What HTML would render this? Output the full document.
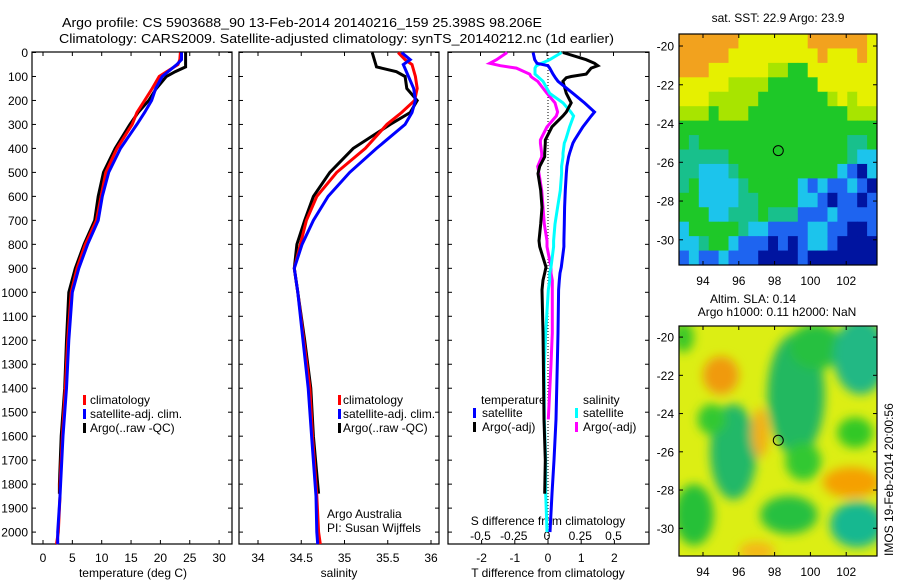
<!DOCTYPE html>
<html><head><meta charset="utf-8"><style>
html,body{margin:0;padding:0;background:#fff;}
svg{display:block;font-family:"Liberation Sans",sans-serif;}
</style></head><body>
<svg id="fig" width="900" height="580" viewBox="0 0 900 580" xmlns="http://www.w3.org/2000/svg">
<rect width="900" height="580" fill="#fff"/>
<text x="62" y="27" font-size="13" textLength="480" lengthAdjust="spacingAndGlyphs">Argo profile: CS 5903688_90 13-Feb-2014 20140216_159 25.398S 98.206E</text>
<text x="59" y="43" font-size="13" textLength="555" lengthAdjust="spacingAndGlyphs">Climatology: CARS2009. Satellite-adjusted climatology: synTS_20140212.nc (1d earlier)</text>
<g id="g"></g>
</svg>
<script>
// ---------- data ----------
const depthTicks=[0,100,200,300,400,500,600,700,800,900,1000,1100,1200,1300,1400,1500,1600,1700,1800,1900,2000];
const tempTicks=[0,5,10,15,20,25,30];
const salTicks=[34,34.5,35,35.5,36];
const tdiffTicks=[-2,-1,0,1,2];
const sdiffTicks=[-0.5,-0.25,0,0.25,0.5];
const sdiffTickLabels=["-0.5","-0.25","0","0.25","0.5"];

const climDepth=[0,30,50,100,150,200,250,300,400,500,600,700,800,900,1000,1200,1400,1600,1800,1850,2000,2050];
const climTemp=[23.4,23.3,23.0,19.8,18.6,17.3,16.0,15.2,12.6,10.7,9.9,9.1,7.2,5.8,4.8,4.2,3.8,3.3,2.9,2.9,2.6,2.3];
const satTemp=[23.6,23.6,22.8,20.3,19.2,18.5,17.3,16.0,13.2,11.2,10.1,9.4,7.6,6.1,5.0,4.4,4.0,3.4,3.0,2.9,2.5,2.5];
const argoDepth=[0,60,80,100,150,200,250,300,400,500,600,700,800,900,1000,1200,1400,1600,1800,1840];
const argoTemp=[24.3,24.3,22.5,21.0,19.3,18.0,16.2,14.8,12.3,10.3,9.4,8.8,7.0,5.5,4.4,4.0,3.7,3.1,2.8,2.8];

const climSal=[35.62,35.70,35.78,35.82,35.84,35.81,35.66,35.49,35.24,34.91,34.68,34.56,34.49,34.42,34.46,34.53,34.60,34.63,34.67,34.68,34.70,34.72];
const satSal=[35.66,35.76,35.68,35.74,35.80,35.82,35.78,35.70,35.37,35.06,34.81,34.64,34.51,34.42,34.46,34.52,34.58,34.62,34.66,34.67,34.68,34.69];
const argoSal=[35.32,35.37,35.60,35.70,35.72,35.84,35.76,35.53,35.10,34.83,34.64,34.54,34.45,34.42,34.46,34.54,34.61,34.64,34.69,34.70];

const diffDepth=[0,30,45,55,65,90,100,105,120,170,210,248,265,310,365,378,420,435,475,505,575,645,715,785,810,895,920,950,990,1170,1300,1530,1700,1840,2000];
const satTdiff=[-0.45,-0.4,-0.33,0.0,0.05,0.15,0.2,0.22,0.3,0.75,1.1,1.4,1.3,1.05,0.8,0.75,0.65,0.62,0.57,0.55,0.52,0.5,0.49,0.48,0.48,0.4,0.36,0.34,0.32,0.3,0.28,0.24,0.18,0.12,0.06];
const argoTdiff=[0.45,1.15,1.4,1.5,1.3,1.15,0.7,0.55,0.45,0.55,0.7,0.55,0.45,0.12,-0.08,-0.08,-0.1,-0.1,-0.25,-0.3,-0.22,-0.18,-0.22,-0.27,-0.25,-0.06,-0.1,-0.15,-0.18,-0.15,-0.14,-0.12,-0.08,-0.1,null];
const satSdiff=[0.11,0.02,-0.04,-0.08,-0.09,-0.09,-0.07,-0.06,-0.03,0.02,0.12,0.18,0.2,0.17,0.14,0.13,0.12,0.12,0.11,0.11,0.1,0.08,0.06,0.05,0.05,0.03,0.02,0.02,0.01,-0.01,-0.02,-0.02,-0.01,-0.01,0.0];
const argoSdiff=[-0.3,-0.38,-0.43,-0.35,-0.23,-0.13,-0.12,-0.11,-0.07,0.0,0.06,0.08,0.07,0.0,-0.05,-0.05,-0.04,-0.04,-0.07,-0.06,-0.04,-0.03,-0.02,0.0,0.0,0.03,0.03,0.04,0.04,0.04,0.03,0.01,null,null,null];

const lonTicks=[94,96,98,100,102];
const latTicks=[-20,-22,-24,-26,-28,-30];
const floatLon=98.206, floatLat=-25.398;
// SST coarse colour grid (rows north→south, columns west→east)
const sstGrid=[
"OOOOOOYYYYYYYOOOOOOY","OOOOOYYYYYYYYYOYYYOY","OOOYYYYYYLLGGYYYYYYY","YYYYYLLLLGGGGGYYYYYY",
"YYYLLLLLGGGGGGGLYLYY","LLLGLLLGGGGGGGGGGLLL","GGGGGGGGGGGGGGGGGGGG","GTGGGGGGGGGGGGGGGTTG",
"TTTTTGGGGGGGGGGGGTCC","TTCCCTGGGGGGGGGGCBDC","TGCCCCTGGGGGCBCBBCBD","GGCCCCTTGGGGCCBDBBDB",
"GGGCCTTTGTTTBBBCBBBB","CGGGGGTCCBBBBCCBBDDB","CCTGGCBBBDBDBCCBDDDD","BCBBCBBBDDDDBDDDDDDD"];
const sstColors={O:"#f2a21e",Y:"#e6f000",L:"#a8e400",G:"#1ec828",T:"#18c08c",C:"#1cc4ec",B:"#1e64f0",D:"#0014a0"};
// SLA blobs: lon, lat, rx(deg), ry(deg), colour
const slaLon=[99.2,100.3,102.8,95.7,94.5,93.5,98.8,102.6,102.5,99.6,92.9,95.0,97.2,102.3,97.0];
const slaLat=[-23.0,-20.5,-21.0,-26.0,-24.3,-29.3,-29.3,-29.8,-25.0,-26.5,-20.0,-22.0,-25.0,-27.6,-31.2];
const slaRx=[1.6,1.5,1.5,1.3,0.8,1.1,1.6,1.5,1.0,1.0,0.6,1.0,0.5,1.6,1.0];
const slaRy=[3.2,1.2,2.0,2.5,0.8,1.6,1.0,1.2,0.8,1.0,0.8,1.0,1.3,0.8,0.5];
const slaCol=["#22b860","#28c040","#20b884","#22b868","#30c830","#28c038","#26c040","#18b890","#30c828","#30c830","#3cc828","#f09a10","#f2b014","#f5a000","#f4b818"];

// ---------- helpers ----------
const NS="http://www.w3.org/2000/svg";
const G=document.getElementById('g');
function mk(tag,attrs,parent){const e=document.createElementNS(NS,tag);for(const k in attrs)e.setAttribute(k,attrs[k]);(parent||G).appendChild(e);return e;}
const TOP=52,BOT=544;
const yD=d=>52.5+d*0.2398;
const xT=t=>43+t*5.87;
const xS=s=>258+(s-34)*86.5;
const xTd=t=>548+t*33.2;
const xSd=s=>547+s*133;

function frame(x0,x1,name){
  const r=mk('rect',{x:x0,y:TOP,width:x1-x0,height:BOT-TOP,fill:'none',stroke:'#000','stroke-width':1.2});
  
  
  depthTicks.forEach(d=>{
    mk('line',{x1:x0,x2:x0+4,y1:yD(d),y2:yD(d),stroke:'#000'});
    mk('line',{x1:x1,x2:x1-4,y1:yD(d),y2:yD(d),stroke:'#000'});
  });
}
function text(x,y,s,anchor,size,name){
  const t=mk('text',{x:x,y:y,'font-size':size||12,'text-anchor':anchor||'start'});
  t.textContent=s;
  
  
  return t;
}
function profile(xs,ds,xf,color,name){
  let pts=[];
  for(let i=0;i<ds.length;i++){if(xs[i]==null)continue;pts.push(xf(xs[i]).toFixed(1)+','+yD(ds[i]).toFixed(1));}
  const p=mk('polyline',{points:pts.join(' '),fill:'none',stroke:color,'stroke-width':3,'stroke-linejoin':'miter'});
  
  
}
function legendBar(x,y,color){mk('rect',{x:x,y:y-5,width:3,height:10,fill:color});}

// ---------- panel 1 ----------
frame(32,232,'temperature-panel');
depthTicks.forEach(d=>{text(28,yD(d)+4.5,String(d),'end',12,'depth-tick-label');});
tempTicks.forEach(t=>{
  mk('line',{x1:xT(t),x2:xT(t),y1:BOT,y2:BOT-4,stroke:'#000'});
  mk('line',{x1:xT(t),x2:xT(t),y1:TOP,y2:TOP+4,stroke:'#000'});
  text(xT(t),562,String(t),'middle',12,'temperature-tick-label');
});
text(133,577,'temperature (deg C)','middle',12,'x-axis-title-temperature');
profile(argoTemp,argoDepth,xT,'#000','argo-temperature-line');
profile(climTemp,climDepth,xT,'#f00','climatology-temperature-line');
profile(satTemp,climDepth,xT,'#00f','satellite-temperature-line');
[['#f00','climatology'],['#00f','satellite-adj. clim.'],['#000','Argo(..raw -QC)']].forEach((e,i)=>{
  legendBar(83,400+i*14,e[0]);text(90,404+i*14,e[1],'start',12,'legend-entry');
});

// ---------- panel 2 ----------
frame(239,439,'salinity-panel');
salTicks.forEach(s=>{
  mk('line',{x1:xS(s),x2:xS(s),y1:BOT,y2:BOT-4,stroke:'#000'});
  mk('line',{x1:xS(s),x2:xS(s),y1:TOP,y2:TOP+4,stroke:'#000'});
  text(xS(s),562,String(s),'middle',12,'salinity-tick-label');
});
text(339,577,'salinity','middle',12,'x-axis-title-salinity');
profile(argoSal,argoDepth,xS,'#000','argo-salinity-line');
profile(climSal,climDepth,xS,'#f00','climatology-salinity-line');
profile(satSal,climDepth,xS,'#00f','satellite-salinity-line');
[['#f00','climatology'],['#00f','satellite-adj. clim.'],['#000','Argo(..raw -QC)']].forEach((e,i)=>{
  legendBar(338,400+i*14,e[0]);text(343,404+i*14,e[1],'start',12,'legend-entry');
});
text(327,518,'Argo Australia','start',12,'credit-argo-australia');
text(327,532,'PI: Susan Wijffels','start',12,'credit-pi');

// ---------- panel 3 ----------
frame(448,649,'difference-panel');
mk('line',{x1:xTd(0),x2:xTd(0),y1:TOP,y2:BOT,stroke:'#000','stroke-width':1,'stroke-dasharray':'1,2'});
tdiffTicks.forEach(t=>{
  mk('line',{x1:xTd(t),x2:xTd(t),y1:BOT,y2:BOT-4,stroke:'#000'});
  text(xTd(t),562,String(t),'middle',12,'t-difference-tick-label');
});
sdiffTicks.forEach((s,i)=>{
  mk('line',{x1:xSd(s),x2:xSd(s),y1:TOP,y2:TOP+4,stroke:'#000'});
  text(xSd(s),540,sdiffTickLabels[i],'middle',12,'s-difference-tick-label');
});
text(548,525,'S difference from climatology','middle',12,'s-difference-axis-title');
text(548,577,'T difference from climatology','middle',12,'t-difference-axis-title');
profile(argoSdiff,diffDepth,xSd,'#f0f','argo-salinity-difference-line');
profile(satSdiff,diffDepth,xSd,'#0ff','satellite-salinity-difference-line');
profile(argoTdiff,diffDepth,xTd,'#000','argo-temperature-difference-line');
profile(satTdiff,diffDepth,xTd,'#00f','satellite-temperature-difference-line');
text(481,404,'temperature','start',12,'legend-heading-temperature');
text(583,404,'salinity','start',12,'legend-heading-salinity');
legendBar(473,413,'#00f');text(482,417,'satellite','start',12,'legend-entry');
legendBar(473,427,'#000');text(482,431,'Argo(-adj)','start',12,'legend-entry');
legendBar(575,413,'#0ff');text(583,417,'satellite','start',12,'legend-entry');
legendBar(575,427,'#f0f');text(583,431,'Argo(-adj)','start',12,'legend-entry');

// ---------- maps ----------
const MX0=679,MX1=877,LON0=92.66,LON1=103.72;
const xL=l=>MX0+(l-LON0)*(MX1-MX0)/(LON1-LON0);
function mapAxes(y0,y1,latTop,latBot,name){
  const yL=l=>y0+(latTop-l)*(y1-y0)/(latTop-latBot);
  const r=mk('rect',{x:MX0,y:y0,width:MX1-MX0,height:y1-y0,fill:'none',stroke:'#000','stroke-width':1.2});
  
  
  lonTicks.forEach(l=>{
    mk('line',{x1:xL(l),x2:xL(l),y1:y1,y2:y1-4,stroke:'#000'});
    mk('line',{x1:xL(l),x2:xL(l),y1:y0,y2:y0+4,stroke:'#000'});
    text(xL(l),y1+20,String(l),'middle',12,'longitude-tick-label');
  });
  latTicks.forEach(l=>{
    mk('line',{x1:MX0,x2:MX0+4,y1:yL(l),y2:yL(l),stroke:'#000'});
    mk('line',{x1:MX1,x2:MX1-4,y1:yL(l),y2:yL(l),stroke:'#000'});
    text(674,yL(l)+4.5,String(l),'end',12,'latitude-tick-label');
  });
  const c=mk('circle',{cx:xL(floatLon),cy:yL(floatLat),r:5,fill:'none',stroke:'#000','stroke-width':1});
  
  
}
// SST map
const S0=34,S1=265,STOP=-19.38,SBOT=-31.3;
const sstG=mk('g',{});


const rows=sstGrid.length,cols=sstGrid[0].length;
const cw=(MX1-MX0)/cols,ch=(S1-S0)/rows;
sstGrid.forEach((row,ri)=>{for(let ci=0;ci<cols;ci++){
  mk('rect',{x:(MX0+ci*cw).toFixed(2),y:(S0+ri*ch).toFixed(2),width:(cw+0.4).toFixed(2),height:(ch+0.4).toFixed(2),fill:sstColors[row[ci]]},sstG);
}});
mapAxes(S0,S1,STOP,SBOT,'sst-map-frame');
text(778,22,'sat. SST: 22.9 Argo: 23.9','middle',12,'sst-map-title');
// SLA map
const A0=326,A1=556,ATOP=-19.42,ABOT=-31.45;
const yA=l=>A0+(ATOP-l)*(A1-A0)/(ATOP-ABOT);
const defs=mk('defs',{});
const cp=mk('clipPath',{id:'slaclip'},defs);mk('rect',{x:MX0,y:A0,width:MX1-MX0,height:A1-A0},cp);
const f=mk('filter',{id:'blur',x:'-50%',y:'-50%',width:'200%',height:'200%'},defs);mk('feGaussianBlur',{stdDeviation:5},f);
const slaG=mk('g',{'clip-path':'url(#slaclip)'});


mk('rect',{x:MX0,y:A0,width:MX1-MX0,height:A1-A0,fill:'#dcee14'},slaG);
const bg=mk('g',{filter:'url(#blur)'},slaG);
const pxd=(MX1-MX0)/(LON1-LON0), pyd=(A1-A0)/(ATOP-ABOT);
for(let i=0;i<slaLon.length;i++){
  mk('ellipse',{cx:xL(slaLon[i]),cy:yA(slaLat[i]),rx:slaRx[i]*pxd,ry:slaRy[i]*pyd,fill:slaCol[i]},bg);
}
mapAxes(A0,A1,ATOP,ABOT,'sla-map-frame');
text(753,303,'Altim. SLA: 0.14','middle',12,'sla-map-title');
text(777,316,'Argo h1000: 0.11 h2000: NaN','middle',12,'argo-height-title');
const imos=text(0,0,'IMOS 19-Feb-2014 20:00:56','start',12,'imos-timestamp');
imos.setAttribute('transform','translate(893,556) rotate(-90)');
</script>
</body></html>
